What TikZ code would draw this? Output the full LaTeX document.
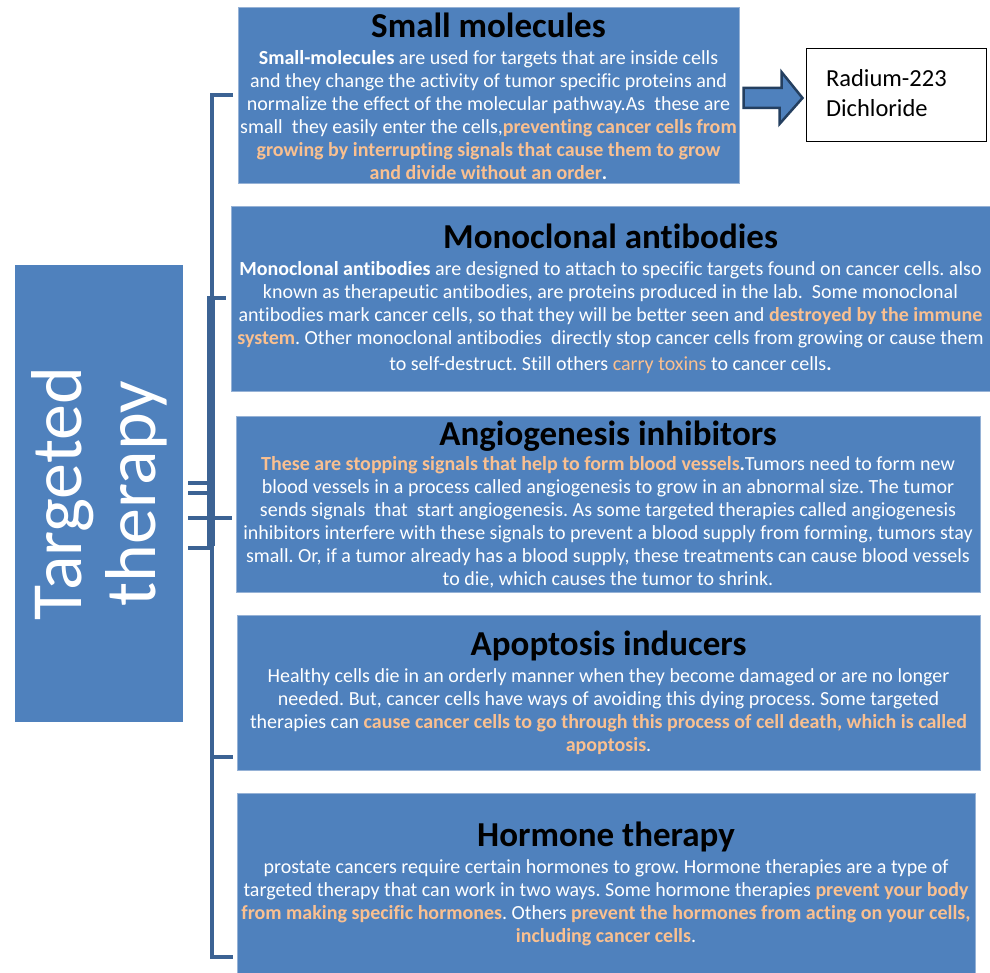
\documentclass[tikz,border=0pt]{standalone}
\usepackage{fontspec}
\setmainfont[Ligatures=NoCommon]{Carlito}
\usetikzlibrary{calc}
\frenchspacing

\definecolor{boxblue}{RGB}{79,129,189}
\definecolor{boxedge}{RGB}{150,178,214}
\definecolor{brkblue}{RGB}{60,99,148}
\definecolor{peach}{RGB}{250,192,144}
\definecolor{navy}{RGB}{36,63,96}

\newcommand{\hl}[1]{\textcolor{peach}{\textbf{#1}}}
\newcommand{\boxtitle}[1]{{\fontsize{35}{35}\selectfont\bfseries\color{black}#1}}

\tikzset{
	topicbox/.style={fill=boxblue, draw=boxedge, line width=1pt, text=white,
		align=center, inner sep=0pt, font=\fontsize{20}{23}\selectfont},
	brk/.style={draw=brkblue, line width=3.5pt},
}

\begin{document}
\begin{tikzpicture}[x=1pt,y=-1pt]

	\useasboundingbox[fill=white] (0,0) rectangle (990,973);

	\node[fill=boxblue, minimum width=168, minimum height=457, inner sep=0pt] (tt) at (99,493.5) {};
	\node[rotate=90, text=white, align=center, font=\fontsize{72}{74}\selectfont] (ttlabel) at (tt.center) {Targeted\\therapy};

	\node[topicbox, minimum width=501, minimum height=176] (sm) at (488.5,96) {%
		\boxtitle{Small molecules}\\[4pt]
		\textbf{Small-molecules} are used for targets that are inside cells\\
		and they change the activity of tumor specific proteins and\\
		normalize the effect of the molecular pathway.As\ \ these are\\
		small\ \ they easily enter the cells,\hl{preventing cancer cells from}\\
		\hl{growing by interrupting signals that cause them to grow}\\
		\hl{and divide without an order}\textbf{.}};

	\node[topicbox, minimum width=759, minimum height=184] (mab) at (610.5,299) {%
		\boxtitle{Monoclonal antibodies}\\[4pt]
		\textbf{Monoclonal antibodies} are designed to attach to specific targets found on cancer cells. also\\
		known as therapeutic antibodies, are proteins produced in the lab.\ \ Some monoclonal\\
		antibodies mark cancer cells, so that they will be better seen and \hl{destroyed by the immune}\\
		\hl{system}. Other monoclonal antibodies\ \ directly stop cancer cells from growing or cause them\\[3pt]
		to self-destruct. Still others \textcolor{peach}{carry toxins} to cancer cells\textbf{.}};

	\node[topicbox, minimum width=744, minimum height=176] (ang) at (608,504) {%
		\boxtitle{Angiogenesis inhibitors}\\[2pt]
		\hl{These are stopping signals that help to form blood vessels}\textbf{.}Tumors need to form new\\
		blood vessels in a process called angiogenesis to grow in an abnormal size. The tumor\\
		sends signals\ \ that\ \ start angiogenesis. As some targeted therapies called angiogenesis\\
		inhibitors interfere with these signals to prevent a blood supply from forming, tumors stay\\
		small. Or, if a tumor already has a blood supply, these treatments can cause blood vessels\\
		to die, which causes the tumor to shrink.};

	\node[topicbox, minimum width=743, minimum height=155] (apo) at (608.5,692.5) {%
		\boxtitle{Apoptosis inducers}\\[4pt]
		Healthy cells die in an orderly manner when they become damaged or are no longer\\
		needed. But, cancer cells have ways of avoiding this dying process. Some targeted\\
		therapies can \hl{cause cancer cells to go through this process of cell death, which is called}\\
		\hl{apoptosis}.};

	\node[topicbox, minimum width=738, minimum height=182] (hor) at (606,884) {%
		\boxtitle{Hormone therapy}\\[4pt]
		prostate cancers require certain hormones to grow. Hormone therapies are a type of\\
		targeted therapy that can work in two ways. Some hormone therapies \hl{prevent your body}\\
		\hl{from making specific hormones}. Others \hl{prevent the hormones from acting on your cells,}\\
		\hl{including cancer cells}.};

	\node[draw=black, fill=white, line width=1pt, minimum width=180, minimum height=93,
		inner sep=0pt, text width=140, align=left, font=\fontsize{24.5}{30}\selectfont]
		(rad) at (896,95.5) {Radium-223\\Dichloride\\[-24pt]\mbox{}};

	% block arrow
	\draw[fill=boxblue, draw=navy, line width=2.5pt, line join=miter]
		($(sm.east)+(4,-8)$) -- ++(38,0) -- ++(0,-16) -- ($(rad.west)+(-3,2.5)$)
		-- ++(-23,26) -- ++(0,-16) -- ($(sm.east)+(4,12)$) -- cycle;

	% upper bracket
	\draw[brk] (233,95) -- (212,95) -- (212,520);
	\draw[brk] (212,298) -- (226,298);
	\draw[brk, line width=8pt] (211,296) -- (211,546);
	% stubs from the therapy box
	\foreach \yy in {483,493}
		\draw[brk] (188,\yy) -- (208,\yy);
	\draw[brk] (188,518) -- (232,518);
	\draw[brk] (188,548) -- (212,548);
	% lower bracket
	\draw[brk] (212,518) -- (212,957) -- (233,957);
	\draw[brk] (212,757) -- (233,757);

\end{tikzpicture}
\end{document}
